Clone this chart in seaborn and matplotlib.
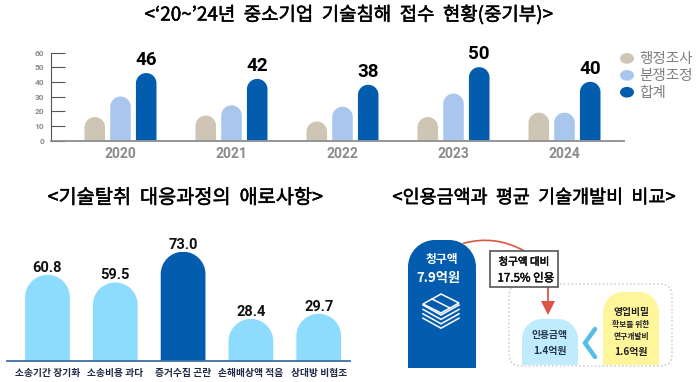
import pandas as pd
import matplotlib.pyplot as plt
import matplotlib.patheffects as pe
import seaborn as sns
from matplotlib.patches import Ellipse, FancyArrowPatch, FancyBboxPatch, PathPatch, Polygon, Rectangle
from matplotlib.path import Path
from matplotlib.legend_handler import HandlerPatch

# data
years = ['2020', '2021', '2022', '2023', '2024']
admin_survey = [16, 17, 13, 16, 19]
dispute_mediation = [30, 24, 23, 32, 19]
total_cases = [46, 42, 38, 50, 40]
series_names = ['행정조사', '분쟁조정', '합계']

difficulty_names = ['소송기간 장기화', '소송비용 과다', '증거수집 곤란', '손해배상액 적음', '상대방 비협조']
difficulty_labels = ['60.8', '59.5', '73.0', '28.4', '29.7']
# the picture's bars are not to scale with their labels, so heights are read separately
difficulty_heights = [57.5, 52.4, 73.0, 28.0, 31.4]

claim_height = [128]
award_names = ['인용금액', '연구개발비']
award_heights = [46, 73]

TAN = '#CFC5B4'
LIGHT = '#A9C7EC'
DARK = '#045CAE'
SKY = '#8DDBFD'
RED = '#DE5546'
GREY = '#8A8A8A'

plt.rcParams['font.family'] = ['Noto Sans CJK KR', 'DejaVu Sans']
W, H = 700, 382
fig = plt.figure(figsize=(7, 3.82), dpi=100, facecolor='white')
thick = [pe.withStroke(linewidth=0.35, foreground='black')]


def box(x0, y0, x1, y1):
    # pixel box (y from the top) -> figure fraction
    return [x0 / W, 1 - y1 / H, (x1 - x0) / W, (y1 - y0) / H]


def round_tops(ax, bars, radius=None):
    # swap the flat bars for bars with a rounded top, radius in pixels
    fig.canvas.draw()
    sx = ax.transData.transform((1, 0))[0] - ax.transData.transform((0, 0))[0]
    sy = ax.transData.transform((0, 1))[1] - ax.transData.transform((0, 0))[1]
    for bar in bars:
        x, w, h = bar.get_x(), bar.get_width(), bar.get_height()
        if h == 0:
            continue
        rx = w / 2 if radius is None else min(w / 2, radius / sx)
        ry = min(rx * sx / sy, h)
        k = 0.5523
        verts = [(x, 0), (x, h - ry),
                 (x, h - ry + k * ry), (x + rx - k * rx, h), (x + rx, h),
                 (x + w - rx, h),
                 (x + w - rx + k * rx, h), (x + w, h - ry + k * ry), (x + w, h - ry),
                 (x + w, 0), (x, 0)]
        codes = [Path.MOVETO, Path.LINETO, Path.CURVE4, Path.CURVE4, Path.CURVE4,
                 Path.LINETO, Path.CURVE4, Path.CURVE4, Path.CURVE4, Path.LINETO, Path.CLOSEPOLY]
        ax.add_patch(PathPatch(Path(verts, codes), facecolor=bar.get_facecolor(), edgecolor='none', zorder=2))
        bar.set_visible(False)


# top chart
ax1 = fig.add_axes(box(51, 52.5, 624, 140.5))
df = pd.DataFrame({
    'year': years * 3,
    'count': admin_survey + dispute_mediation + total_cases,
    'series': [s for s in series_names for _ in years],
})
sns.barplot(data=df, x='year', y='count', hue='series', hue_order=series_names,
            palette=[TAN, LIGHT, DARK], saturation=1, width=0.695, gap=0.2, legend=False, ax=ax1)
ax1.set_xlim(-0.626, 4.536)
ax1.set_ylim(0, 60)
ax1.set_xlabel('')
ax1.set_ylabel('')
ax1.set_yticks(range(0, 61, 10))
sns.despine(ax=ax1, right=True, top=True)
ax1.spines['left'].set_color('#555555')
ax1.spines['left'].set_linewidth(0.8)
ax1.spines['bottom'].set_color('#8C8C8C')
ax1.spines['bottom'].set_linewidth(1.3)
ax1.tick_params(axis='y', direction='in', length=10, width=0.8, color='#555555',
                labelsize=6, labelcolor=GREY, pad=5)
ax1.tick_params(axis='x', length=0, labelsize=10, labelcolor=GREY, pad=5)
for t in ax1.get_xticklabels() + ax1.get_yticklabels():
    t.set_fontfamily('Roboto')
    t.set_fontweight('bold')
ax1.bar_label(ax1.containers[2], labels=[str(v) for v in total_cases], padding=3,
              fontsize=13.5, fontweight='bold', fontfamily='Roboto', color='black')
for c in ax1.containers:
    round_tops(ax1, c)
ax1.plot([1, 1], [0, 0.02], transform=ax1.transAxes, color='#555555', lw=0.8)

handles = [Ellipse((0, 0), 1, 1, color=c) for c in [TAN, LIGHT, DARK]]


class EllipseHandler(HandlerPatch):
    def create_artists(self, legend, orig, xd, yd, width, height, fontsize, trans):
        e = Ellipse((width / 2 - xd, height / 2 - yd), width, height,
                    facecolor=orig.get_facecolor(), edgecolor='none', transform=trans)
        return [e]


ax1.legend(handles, series_names, handler_map={Ellipse: EllipseHandler()}, frameon=False,
           loc='upper left', bbox_to_anchor=(0.993, 1.0), borderaxespad=0, borderpad=0,
           fontsize=10.5, labelcolor='#7F7F7F', handlelength=0.96, handleheight=0.75,
           handletextpad=0.35, labelspacing=0.2)

# bottom left chart
ax2 = fig.add_axes(box(7, 251.7, 350, 360.7))
sns.barplot(x=difficulty_names, y=difficulty_heights, hue=difficulty_names,
            palette=[SKY, SKY, DARK, SKY, SKY], saturation=1, width=0.66, legend=False, ax=ax2)
# bars sit 67.8 px apart, first centre at 47.5 px
ax2.set_xlim((7 - 47.5) / 67.8, (350 - 47.5) / 67.8)
ax2.set_ylim(0, 73)
ax2.set_xlabel('')
ax2.set_ylabel('')
ax2.set_yticks([])
sns.despine(ax=ax2, left=True, right=True, top=True)
ax2.spines['bottom'].set_color('#3F6E9E')
ax2.spines['bottom'].set_linewidth(1.3)
ax2.tick_params(axis='x', length=0, labelsize=7, labelcolor='#1F2A44', pad=5)
for t in ax2.get_xticklabels():
    t.set_fontweight('bold')
for c, lab in zip(ax2.containers, difficulty_labels):
    ax2.bar_label(c, labels=[lab], padding=0, fontsize=10.5, fontweight='bold',
                  fontfamily='Roboto', color='#111111')
for c in ax2.containers:
    round_tops(ax2, c)

# bottom right blocks
ax3 = fig.add_axes(box(408, 240, 476, 368))
sns.barplot(x=['청구액'], y=claim_height, color=DARK, saturation=1, width=1, ax=ax3)
ax3.set_xlim(-0.5, 0.5)
ax3.set_ylim(0, claim_height[0])
ax3.axis('off')
round_tops(ax3, ax3.containers[0], radius=27)

ax4 = fig.add_axes(box(509.5, 292, 671.5, 365))
sns.barplot(x=award_names, y=award_heights, hue=award_names, palette=['#BFEBFD', '#FFF59B'],
            saturation=1, width=0.69, legend=False, ax=ax4)
ax4.set_xlim(-0.5, 1.5)
ax4.set_ylim(0, max(award_heights))
ax4.axis('off')
for c in ax4.containers:
    round_tops(ax4, c, radius=20)

# overlay in pixel coordinates for titles and the callout drawing
ov = fig.add_axes([0, 0, 1, 1], zorder=5)
ov.set_xlim(0, W)
ov.set_ylim(H, 0)
ov.axis('off')
ov.patch.set_alpha(0)

ov.text(349, 15, "<‘20~’24년  중소기업  기술침해  접수  현황(중기부)>", ha='center', va='center',
        fontsize=13.6, color='black', path_effects=thick)
ov.text(185, 198, '<기술탈취  대응과정의  애로사항>', ha='center', va='center', fontsize=14.2, color='black', path_effects=thick)
ov.text(534, 198, '<인용금액과  평균  기술개발비  비교>', ha='center', va='center', fontsize=13.3, color='black', path_effects=thick)

ov.add_patch(FancyBboxPatch((509, 284), 163, 82, boxstyle='round,pad=0,rounding_size=12',
                            fill=False, edgecolor='#BDBDBD', lw=0.8, ls=(0, (1.5, 2)), zorder=1))

ov.text(442, 259.5, '청구액', color='white', ha='center', va='center', fontsize=8.5, fontweight='bold')
ov.text(438, 278, '7.9억원', color='white', ha='center', va='center', fontsize=9.5, fontweight='bold')

# stack of bills icon
for i in range(4):
    dy = i * 4.4
    ov.plot([423, 441, 459], [305 + dy, 315 + dy, 305 + dy], color='white', lw=1.1, solid_joinstyle='miter')
ov.add_patch(Polygon([[423, 304], [441, 294], [459, 303], [441, 313]], closed=True, fill=False, edgecolor='white', lw=1.1))
ov.plot([432, 450], [299, 308], color='white', lw=1.1)

ov.text(550, 335, '인용금액', ha='center', va='center', fontsize=7, fontweight='bold', color='#24344F')
ov.text(550, 351, '1.4억원', ha='center', va='center', fontsize=7.2, fontweight='bold', color='#24344F')
ov.text(631, 312, '영업비밀', ha='center', va='center', fontsize=7, fontweight='bold', color='#222222')
ov.text(631, 325, '확보를 위한', ha='center', va='center', fontsize=5.6, fontweight='bold', color='#222222')
ov.text(631, 337, '연구개발비', ha='center', va='center', fontsize=5.6, fontweight='bold', color='#222222')
ov.text(631, 352, '1.6억원', ha='center', va='center', fontsize=7.2, fontweight='bold', color='#222222')

ov.plot([595, 585, 595], [329, 343, 357], color='#55BDE8', lw=3.2, solid_capstyle='round', solid_joinstyle='miter')

ov.add_patch(FancyArrowPatch((461, 244), (526, 252), connectionstyle='arc3,rad=-0.22', arrowstyle='-', color=RED, lw=1.2))
ov.plot([548, 548], [287, 304], color=RED, lw=1.3)
ov.add_patch(Polygon([[541, 301], [555, 301], [548, 315]], closed=True, facecolor=RED, edgecolor='none'))

ov.add_patch(Rectangle((490, 251), 68, 36, facecolor='white', edgecolor='#555555', lw=1.2, zorder=3))
ov.text(524, 262, '청구액 대비', ha='center', va='center', fontsize=7.6, color='#111111', zorder=4, path_effects=thick)
ov.text(526, 278, '17.5% 인용', ha='center', va='center', fontsize=8.3, color='#111111', zorder=4, path_effects=thick)

fig.savefig('out.png', dpi=100)
